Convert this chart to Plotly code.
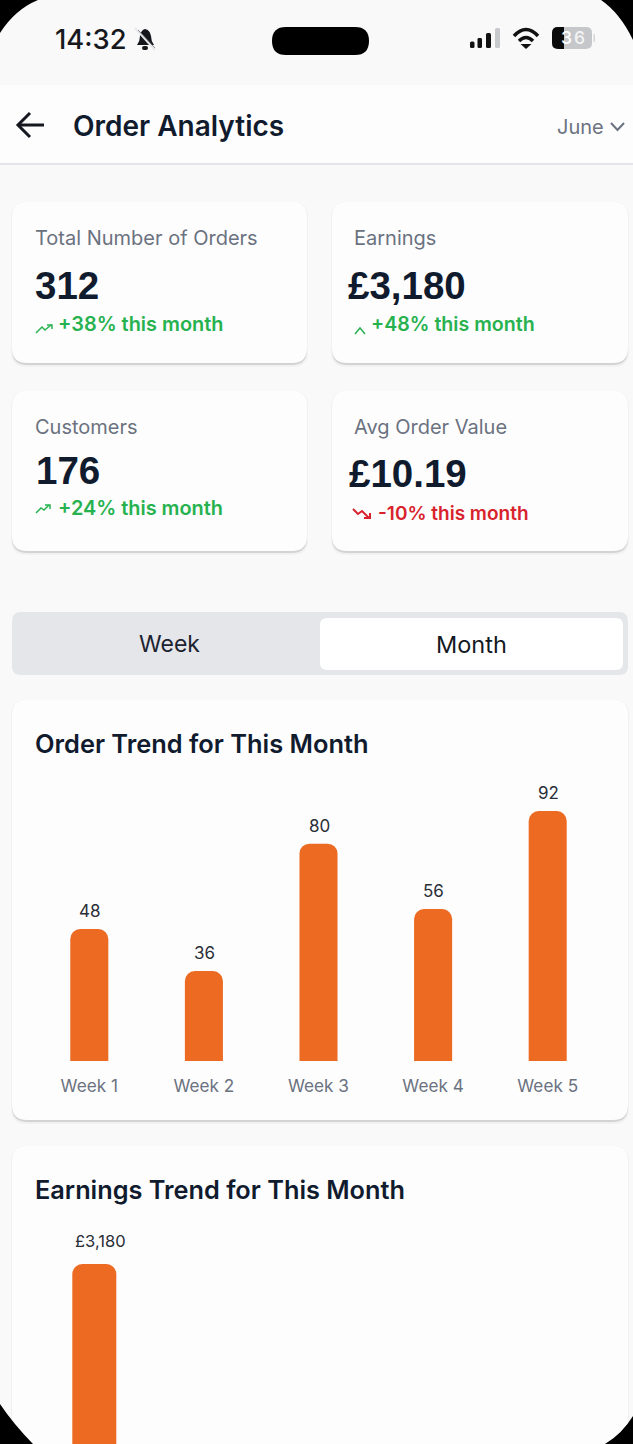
import plotly.graph_objects as go

W = 633
H = 1444

order_weeks = ["Week 1", "Week 2", "Week 3", "Week 4", "Week 5"]
order_heights = [48.6, 33.1, 80, 55.9, 92]  # as drawn in the picture
order_labels = ["48", "36", "80", "56", "92"]

earnings_weeks = ["Week 1"]
earnings_values = [3180]
earnings_labels = ["£3,180"]

kpi_titles = ["Total Number of Orders", "Earnings", "Customers", "Avg Order Value"]
kpi_values = ["312", "£3,180", "176", "£10.19"]
kpi_changes = ["+38% this month", "+48% this month", "+24% this month", "-10% this month"]

DARK = "#111b2e"
GREY = "#6b7280"
GREEN = "#27b24f"
RED = "#d8232c"
ORANGE = "#ec6a22"


def px(x):
    return x / W


def py(y):
    return 1 - y / H


def rounded(x0, y0, x1, y1, r):
    pts = [("M", x0 + r, y0), ("L", x1 - r, y0), ("Q", x1, y0, x1, y0 + r), ("L", x1, y1 - r),
           ("Q", x1, y1, x1 - r, y1), ("L", x0 + r, y1), ("Q", x0, y1, x0, y1 - r), ("L", x0, y0 + r),
           ("Q", x0, y0, x0 + r, y0)]
    return path_of(pts) + " Z"


def path_of(pts):
    out = []
    for p in pts:
        coords = []
        for i in range(1, len(p), 2):
            coords.append(f"{px(p[i]):.5f},{py(p[i + 1]):.5f}")
        out.append(p[0] + " ".join(coords))
    return " ".join(out)


shapes = []


def fill(path, color, opacity=1, layer="below"):
    shapes.append(dict(type="path", xref="paper", yref="paper", path=path, fillcolor=color,
                       line=dict(width=0), opacity=opacity, layer=layer))


def stroke(pts, color, width):
    shapes.append(dict(type="path", xref="paper", yref="paper", path=path_of(pts),
                       line=dict(color=color, width=width), fillcolor="rgba(0,0,0,0)", layer="above"))


def poly(xy):
    return [("M" if i == 0 else "L", p[0], p[1]) for i, p in enumerate(xy)]


def card(x0, y0, x1, y1, r=15):
    fill(rounded(x0 - 1, y0, x1 + 1, y1 + 4, r), "#000000", 0.03)
    fill(rounded(x0, y0 + 2, x1, y1 + 2, r), "#000000", 0.12)
    fill(rounded(x0, y0, x1, y1, r), "#fdfdfe")


annotations = []


def label(x, y, text, size, color=DARK, weight=400, anchor="left", family="Inter"):
    if anchor == "left":
        x = x - 1.5
    annotations.append(dict(xref="paper", yref="paper", x=px(x), y=py(y), text=text, showarrow=False,
                            xanchor=anchor, yanchor="middle", borderpad=0,
                            font=dict(family=family, size=size, color=color, weight=weight)))


# page
fill("M0,0 L1,0 L1,1 L0,1 Z", "#f9f9fa")
fill(path_of(poly([(0, 85), (W, 85), (W, 163), (0, 163)])) + " Z", "#fdfdfe")
fill(path_of(poly([(0, 163), (W, 163), (W, 165), (0, 165)])) + " Z", "#e3e5e9")

# status bar
label(55, 39, "14:32", 27.3, "#16181d", 500)
fill(rounded(272, 27, 369, 55, 14), "#000000", layer="above")
fill(path_of([("M", 137, 45), ("Q", 140, 41, 140, 36), ("Q", 141, 30, 145, 29), ("Q", 150, 30, 151, 36),
              ("Q", 151, 41, 154, 45)]) + " Z", "#15171c", layer="above")
fill(rounded(142, 46, 148, 50, 2), "#15171c", layer="above")
stroke(poly([(135, 28), (155, 50)]), "#e9e9ec", 2)
stroke(poly([(138, 30), (155, 48)]), "#6d6e72", 0.8)
for x0, x1, top, col in [(470, 474.5, 41.5, "#111111"), (477.5, 482, 38, "#111111"),
                         (486, 491, 33, "#111111"), (495, 500, 28, "#c8c9cc")]:
    fill(rounded(x0, top, x1, 48, 1.5), col, layer="above")
stroke([("M", 514, 36), ("Q", 526, 23, 538, 36)], "#111111", 3.5)
stroke([("M", 519, 41), ("Q", 526, 34, 533, 41)], "#111111", 3.5)
fill(path_of(poly([(526, 49), (520.5, 44), (531.5, 44)])) + " Z", "#111111", layer="above")
fill(rounded(552, 27, 592, 49, 6), "#c6c7ca", layer="above")
fill(path_of([("M", 558, 27), ("L", 564, 27), ("L", 564, 49), ("L", 558, 49), ("Q", 552, 49, 552, 43),
              ("L", 552, 33), ("Q", 552, 27, 558, 27)]) + " Z", "#0a0a0a", layer="above")
fill(rounded(593.5, 34, 595, 42, 0.7), "#d2d3d6", layer="above")
label(566, 38, "3", 17.5, "#ffffff", 500, "center")
label(579, 38, "6", 17.5, "#f4f4f4", 500, "center")

# header
stroke(poly([(18, 125), (44, 125)]), "#15181f", 3)
stroke(poly([(30, 113), (18, 125), (30, 137)]), "#15181f", 3)
label(73, 126, "Order Analytics", 28, DARK, 600)
label(557, 127, "June", 20, GREY)
stroke(poly([(611, 123), (617.5, 130), (624, 123)]), GREY, 2)

# kpi cards
for box in [(12, 202, 307, 363), (332, 202, 628, 363), (12, 391, 307, 551), (332, 391, 628, 551)]:
    card(*box)

label(35, 238, kpi_titles[0], 20, GREY)
label(354, 238, kpi_titles[1], 20, GREY)
label(35, 427, kpi_titles[2], 20, GREY)
label(354, 427, kpi_titles[3], 20, GREY)

label(35, 285, kpi_values[0], 38.5, DARK, 700, family="Liberation Sans")
label(348, 285, kpi_values[1], 38.5, DARK, 700, family="Liberation Sans")
label(36, 470, kpi_values[2], 38.5, DARK, 700, family="Liberation Sans")
label(349, 474, kpi_values[3], 38.5, DARK, 700, family="Liberation Sans")

label(58, 324, kpi_changes[0], 19.9, GREEN, 600)
label(371, 324, kpi_changes[1], 19.6, GREEN, 600)
label(58, 508, kpi_changes[2], 19.9, GREEN, 600)
label(378, 513, kpi_changes[3], 19, RED, 600)

stroke(poly([(36, 333), (42, 327), (45, 330), (51, 325)]), GREEN, 1.5)
stroke(poly([(47, 325), (52, 325), (52, 329)]), GREEN, 1.5)
stroke(poly([(355, 334), (360, 328), (365, 334)]), GREEN, 1.5)
stroke(poly([(36, 513), (41, 508), (44, 510), (49, 505)]), GREEN, 1.5)
stroke(poly([(45, 505), (50, 505), (50, 509)]), GREEN, 1.5)
stroke(poly([(353, 509), (358, 514), (362, 511), (369, 518)]), RED, 2)
stroke(poly([(364, 518), (370, 518), (370, 513)]), RED, 2)

# week / month toggle
fill(rounded(12, 612, 628, 675, 9), "#e4e6ea")
fill(rounded(320, 618, 623, 670, 7), "#ffffff")
label(169, 644, "Week", 23, "#1c2230", 400, "center")
label(471, 644, "Month", 23.5, "#14181f", 400, "center")

# chart cards
card(12, 700, 628, 1120)
card(12, 1146, 628, 1480)
label(35, 743, "Order Trend for This Month", 25.4, DARK, 600)
label(35, 1189, "Earnings Trend for This Month", 25.3, DARK, 600)

# phone corners
fill(path_of([("M", 0, 0), ("L", 38, 0), ("Q", 15, 9.5, 0, 33)]) + " Z", "#000000", layer="above")
fill(path_of([("M", W, 0), ("L", 601, 0), ("Q", 620, 13, W, 40)]) + " Z", "#000000", layer="above")
fill(path_of([("M", 0, H), ("L", 33, H), ("Q", 13.5, 1424, 0, 1404)]) + " Z", "#000000", layer="above")
fill(path_of([("M", W, H), ("L", 605, H), ("Q", 622, 1434, W, 1416)]) + " Z", "#000000", layer="above")

# value labels sit further off the bars than plotly's outside text
for week, height, text in zip(order_weeks, order_heights, order_labels):
    annotations.append(dict(xref="x", yref="y", x=week, y=height, text=text, showarrow=False, yanchor="middle",
                            yshift=18, xshift=0.5, font=dict(family="Inter", size=17, color="#2a2e36")))
for week, value, text in zip(earnings_weeks, earnings_values, earnings_labels):
    annotations.append(dict(xref="x2", yref="y2", x=week, y=value, text=text, showarrow=False, yanchor="middle",
                            yshift=23, xshift=6.5, font=dict(family="Inter", size=16.5, color="#2a2e36")))

fig = go.Figure()
fig.add_trace(go.Bar(x=order_weeks, y=order_heights, marker=dict(color=ORANGE, line=dict(width=0)),
                     xaxis="x", yaxis="y", hoverinfo="skip"))
fig.add_trace(go.Bar(x=earnings_weeks, y=earnings_values, marker=dict(color=ORANGE, line=dict(width=0)),
                     width=0.384, xaxis="x2", yaxis="y2", hoverinfo="skip"))

# 2.717 px per order, 0.0786 px per pound
fig.update_layout(
    width=W, height=H, margin=dict(l=0, r=0, t=0, b=0), autosize=False,
    paper_bgcolor="#f9f9fa", plot_bgcolor="rgba(0,0,0,0)", showlegend=False,
    bargap=0.668, barcornerradius=10, shapes=shapes, annotations=annotations,
    xaxis=dict(domain=[px(32), px(605)], range=[-0.5, 4.5], showgrid=False, zeroline=False, showline=False,
               ticks="outside", ticklen=9, tickcolor="rgba(0,0,0,0)", anchor="y",
               tickfont=dict(family="Inter", size=17.2, color=GREY)),
    yaxis=dict(domain=[py(1061), py(770)], range=[0, 107.1], visible=False, anchor="x"),
    xaxis2=dict(domain=[px(37), px(610)], range=[-0.5, 4.5], visible=False, anchor="y2"),
    yaxis2=dict(domain=[0, py(1215)], range=[890, 3803], visible=False, anchor="x2"),
)

fig.write_html("out.html", config=dict(displayModeBar=False),
               post_script="document.body.style.margin='0';")
